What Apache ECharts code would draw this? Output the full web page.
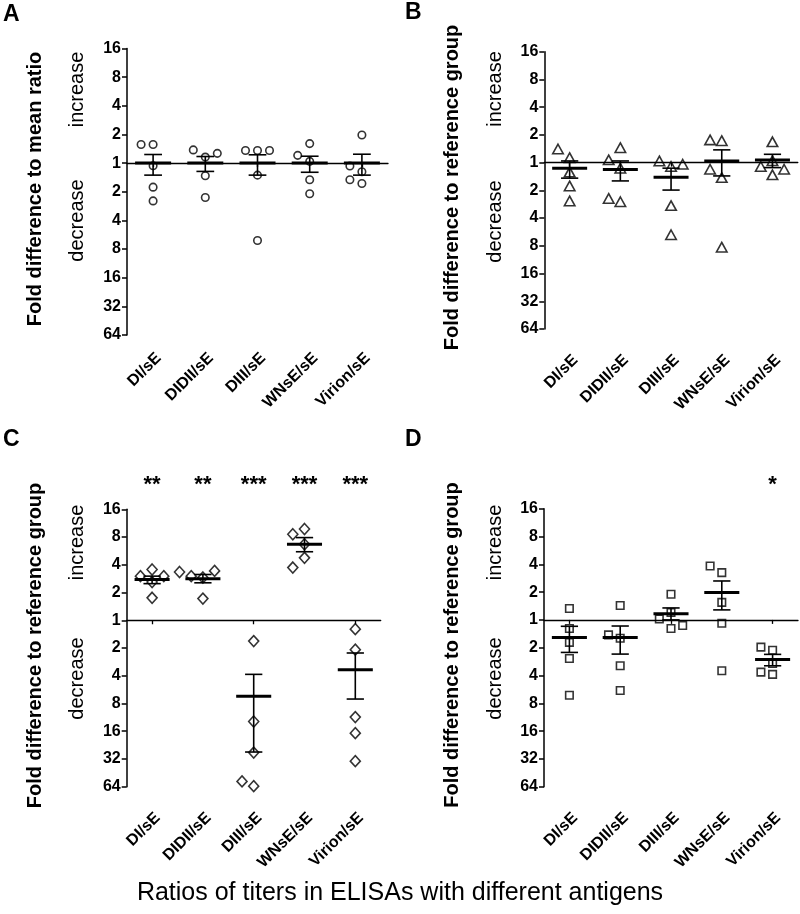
<!DOCTYPE html>
<html>
<head>
    <meta charset="utf-8"/>
    <title>Fold differences of ELISA titer ratios</title>
    <script src="https://cdn.jsdelivr.net/npm/echarts@6/dist/echarts.min.js"></script>
    <style>
        html, body { margin: 0; padding: 0; background: #fff; }
        #main { width: 800px; height: 914px; }
    </style>
</head>
<body>
<div id="main"></div>
<script>
    // categories (x axis)
    var categories = ['DI/sE', 'DIDII/sE', 'DIII/sE', 'WNsE/sE', 'Virion/sE'];

    // all values are log2 of the fold difference: + = increase, - = decrease
    // panel A
    var aPoints = [
        [-0.09, 0.65, 0.65, -0.84, -1.32],
        [0.21, 0.46, 0.34, -0.44, -1.20],
        [0.44, 0.44, 0.44, -0.42, -2.70],
        [0.06, 0.68, 0.27, -0.58, -1.07],
        [-0.30, -0.10, 0.98, -0.58, -0.71]
    ];
    var aMean = [0, 0, 0, 0, 0];
    var aSemHigh = [0.30, 0.23, 0.29, 0.24, 0.31];
    var aSemLow = [-0.42, -0.29, -0.42, -0.32, -0.42];

    // panel B
    var bPoints = [
        [0.18, 0.49, -0.34, -0.84, -1.38],
        [-0.20, 0.10, 0.54, -1.41, -1.29],
        [-0.14, 0.06, -0.06, -1.55, -2.60],
        [0.79, 0.82, -0.54, -0.24, -3.05],
        [0.75, 0.07, -0.14, -0.24, -0.44]
    ];
    var bMean = [-0.20, -0.25, -0.53, 0.06, 0.09];
    var bSemHigh = [0.06, 0.06, -0.20, 0.46, 0.30];
    var bSemLow = [-0.56, -0.66, -0.99, -0.48, -0.18];

    // panel C
    var cPoints = [
        [1.38, 1.59, 1.59, 1.83, 0.81],
        [1.54, 1.59, 1.78, 1.74, 0.78],
        [-0.75, -3.65, -4.77, -5.98, -5.81],
        [3.29, 3.10, 2.74, 2.25, 1.90],
        [-0.32, -1.06, -3.49, -4.07, -5.08]
    ];
    var cMean = [1.47, 1.50, -2.74, 2.74, -1.78];
    var cSemHigh = [1.59, 1.65, -1.95, 2.98, -1.18];
    var cSemLow = [1.32, 1.35, -4.75, 2.47, -2.84];
    var cStars = ['**', '**', '***', '***', '***'];

    // panel D
    var dPoints = [
        [0.41, -0.31, -0.81, -1.39, -2.71],
        [0.52, -0.66, -0.54, -1.65, -2.54],
        [0.27, 0.03, 0.92, -0.31, -0.20],
        [1.70, 1.94, 0.63, -0.12, -1.83],
        [-1.09, -0.98, -1.57, -1.96, -1.88]
    ];
    var dMean = [-0.63, -0.63, 0.22, 0.99, -1.42];
    var dSemHigh = [-0.23, -0.22, 0.43, 1.40, -1.24];
    var dSemLow = [-1.17, -1.23, 0.00, 0.36, -1.65];
    var dStars = ['', '', '', '', '*'];

    var noStars = ['', '', '', '', ''];
    var yMin = -6, yMax = 4;

    var FONT = '"Liberation Sans", Arial, Helvetica, sans-serif';

    var panels = [
        {letter: 'A', points: aPoints, mean: aMean, hi: aSemHigh, lo: aSemLow, stars: noStars,
            symbol: 'circle', size: 7.5, title: 'Fold difference to mean ratio',
            grid: {left: 127, top: 48.5, width: 261, height: 286.5}, labelMargin: 15,
            letterPos: [3, 15], titlePos: [35, 189], wordX: 77, wordY: [89.5, 220.5]},
        {letter: 'B', points: bPoints, mean: bMean, hi: bSemHigh, lo: bSemLow, stars: noStars,
            symbol: 'triangle', size: [10.5, 9.5], title: 'Fold difference to reference group',
            grid: {left: 544.3, top: 51.7, width: 253.5, height: 277.3}, labelMargin: 23,
            letterPos: [405, 13], titlePos: [452, 187.5], wordX: 495, wordY: [89, 221.5]},
        {letter: 'C', points: cPoints, mean: cMean, hi: cSemHigh, lo: cSemLow, stars: cStars,
            symbol: 'diamond', size: [10, 11], title: 'Fold difference to reference group',
            grid: {left: 126.7, top: 509.3, width: 254, height: 277.4}, labelMargin: 23,
            letterPos: [3, 440], titlePos: [35, 645.5], wordX: 77, wordY: [542.5, 678.5]},
        {letter: 'D', points: dPoints, mean: dMean, hi: dSemHigh, lo: dSemLow, stars: dStars,
            symbol: 'rect', size: 7.5, title: 'Fold difference to reference group',
            grid: {left: 544, top: 508.7, width: 254, height: 278}, labelMargin: 23,
            letterPos: [405, 440], titlePos: [452, 645], wordX: 495.5, wordY: [542.5, 678.5]}
    ];

    // spread points with nearly equal values sideways (simple beeswarm)
    function spread(values, pxPerUnit, step, gap) {
        var placed = [];
        return values.map(function (v) {
            var tries = [0, -step, step, -2 * step, 2 * step];
            for (var t = 0; t < tries.length; t++) {
                var ok = placed.every(function (p) {
                    return !(Math.abs(p.x - tries[t]) < gap && Math.abs(p.y - v) * pxPerUnit < gap);
                });
                if (ok) break;
            }
            var x = tries[Math.min(t, tries.length - 1)];
            placed.push({x: x, y: v});
            return x;
        });
    }

    function renderMeanSem(params, api) {
        var ci = api.value(0);
        var m = api.coord([ci, api.value(1)]);
        var hi = api.coord([ci, api.value(2)]);
        var lo = api.coord([ci, api.value(3)]);
        var bw = api.size([1, 0])[0];
        var half = bw * 0.345, cap = bw * 0.17;
        var thin = {stroke: '#000', lineWidth: 1.6};
        return {
            type: 'group',
            children: [
                {type: 'line', shape: {x1: m[0] - half, y1: m[1], x2: m[0] + half, y2: m[1]},
                    style: {stroke: '#000', lineWidth: 3}},
                {type: 'line', shape: {x1: hi[0], y1: hi[1], x2: lo[0], y2: lo[1]}, style: thin},
                {type: 'line', shape: {x1: hi[0] - cap, y1: hi[1], x2: hi[0] + cap, y2: hi[1]}, style: thin},
                {type: 'line', shape: {x1: lo[0] - cap, y1: lo[1], x2: lo[0] + cap, y2: lo[1]}, style: thin}
            ]
        };
    }

    var grids = [], xAxes = [], yAxes = [], series = [], graphics = [];

    panels.forEach(function (p, i) {
        grids.push(p.grid);
        var base = i * 3;
        // labels at the bottom
        xAxes.push({
            gridIndex: i, type: 'category', data: categories, position: 'bottom',
            axisLine: {show: false, onZero: false}, axisTick: {show: false},
            axisLabel: {interval: 0, rotate: 45, margin: p.labelMargin, verticalAlign: 'top',
                color: '#000', fontFamily: FONT, fontWeight: 'bold', fontSize: 16}
        });
        // the line at 1 (log2 = 0)
        xAxes.push({
            gridIndex: i, type: 'category', data: categories, position: 'bottom',
            axisLine: {show: true, onZero: true, lineStyle: {color: '#000', width: 1.3}},
            axisTick: {show: true, alignWithLabel: true, length: 4, lineStyle: {color: '#000', width: 1.3}},
            axisLabel: {show: false}
        });
        // significance stars
        xAxes.push({
            gridIndex: i, type: 'category', data: p.stars, position: 'top',
            axisLine: {show: false, onZero: false}, axisTick: {show: false},
            axisLabel: {interval: 0, margin: 13, color: '#000', fontFamily: FONT,
                fontWeight: 'bold', fontSize: 22}
        });
        yAxes.push({
            gridIndex: i, type: 'value', min: yMin, max: yMax, interval: 1,
            axisLine: {show: true, onZero: false, lineStyle: {color: '#000', width: 1.5}},
            axisTick: {show: true, length: 5, lineStyle: {color: '#000', width: 1.5}},
            splitLine: {show: false},
            axisLabel: {
                margin: 6, color: '#000', fontFamily: FONT, fontWeight: 'bold', fontSize: 16,
                formatter: function (v) { return String(Math.pow(2, Math.abs(v))); }
            }
        });

        var pxPerUnit = p.grid.height / (yMax - yMin);
        var band = p.grid.width / categories.length;
        var pts = [];
        p.points.forEach(function (vals, ci) {
            var offs = spread(vals, pxPerUnit, band * 0.23, 10);
            vals.forEach(function (v, k) {
                pts.push({value: [ci, v], symbolOffset: [offs[k], 0]});
            });
        });
        series.push({
            type: 'scatter', xAxisIndex: base + 1, yAxisIndex: i, z: 2,
            symbol: p.symbol, symbolSize: p.size,
            itemStyle: {color: 'rgba(0,0,0,0)', borderColor: '#000', borderWidth: 1.6},
            data: pts
        });
        series.push({
            type: 'custom', xAxisIndex: base + 1, yAxisIndex: i, z: 3,
            renderItem: renderMeanSem,
            data: categories.map(function (c, ci) {
                return [ci, p.mean[ci], p.hi[ci], p.lo[ci]];
            })
        });

        // panel letter, y title, increase / decrease
        graphics.push({
            type: 'text', left: p.letterPos[0], top: p.letterPos[1] - 12,
            style: {text: p.letter, font: 'bold 23px ' + FONT, fill: '#000'}
        });
        graphics.push({
            type: 'text', x: p.titlePos[0], y: p.titlePos[1], rotation: Math.PI / 2,
            style: {text: p.title, font: 'bold 20px ' + FONT, fill: '#000',
                textAlign: 'center', textVerticalAlign: 'middle'}
        });
        graphics.push({
            type: 'text', x: p.wordX, y: p.wordY[0], rotation: Math.PI / 2,
            style: {text: 'increase', font: '20px ' + FONT, fill: '#000',
                textAlign: 'center', textVerticalAlign: 'middle'}
        });
        graphics.push({
            type: 'text', x: p.wordX, y: p.wordY[1], rotation: Math.PI / 2,
            style: {text: 'decrease', font: '20px ' + FONT, fill: '#000',
                textAlign: 'center', textVerticalAlign: 'middle'}
        });
    });

    graphics.push({
        type: 'text', x: 400, y: 893,
        style: {text: 'Ratios of titers in ELISAs with different antigens', font: '25px ' + FONT,
            fill: '#000', textAlign: 'center', textVerticalAlign: 'middle'}
    });

    var myChart = echarts.init(document.getElementById('main'), null, {renderer: 'canvas'});
    myChart.setOption({
        animation: false,
        backgroundColor: '#fff',
        grid: grids,
        xAxis: xAxes,
        yAxis: yAxes,
        series: series,
        graphic: graphics
    });
</script>
</body>
</html>
